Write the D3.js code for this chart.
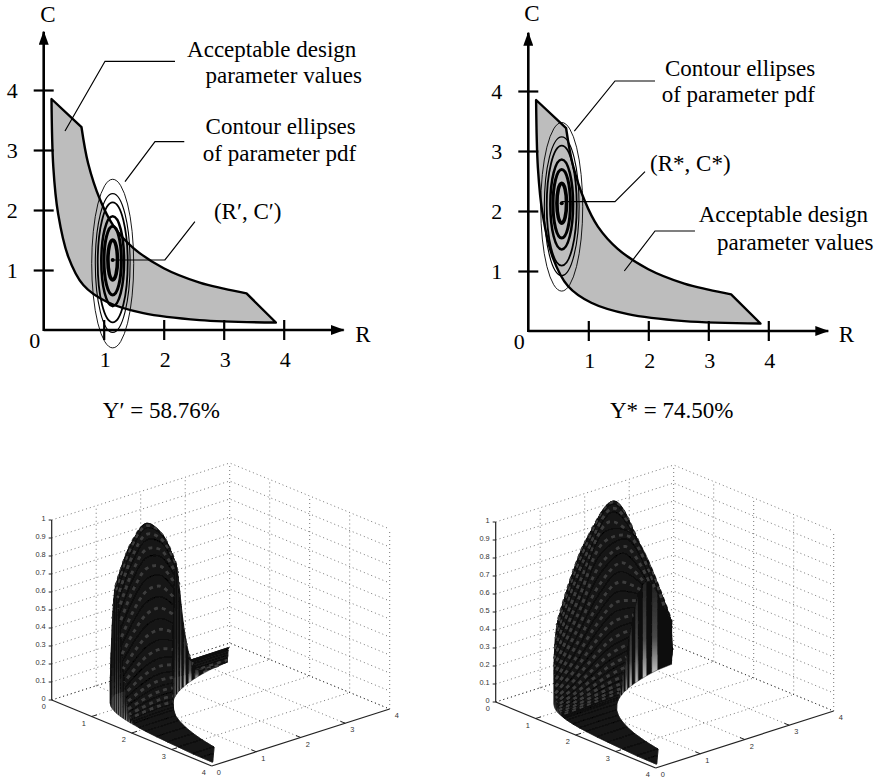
<!DOCTYPE html>
<html>
<head>
<meta charset="utf-8">
<style>
html, body { margin: 0; padding: 0; background: #fff; }
svg { display: block; }
</style>
<script src="https://cdnjs.cloudflare.com/ajax/libs/d3/7.8.5/d3.min.js"></script>
</head>
<body>
<svg id="chart" width="882" height="779"></svg>
<script>
// acceptable region outline, in (R, C) units
var lowerEdgeR = [0.13, 0.16, 0.24, 0.41, 0.66, 1.05, 1.66, 2.6, 3.87];
var lowerEdgeC = [3.85, 2.72, 1.94, 1.22, 0.75, 0.47, 0.28, 0.165, 0.125];
var upperEdgeR = [3.87, 3.38, 3.0, 2.6, 2.0, 1.49, 1.16, 0.94, 0.74, 0.63, 0.13];
var upperEdgeC = [0.125, 0.61, 0.69, 0.79, 1.03, 1.37, 1.74, 2.17, 2.78, 3.38, 3.85];

var planarTicks = [1, 2, 3, 4];

// contour ellipses, outer to inner
var ellipseRadiusR = [0.35, 0.29, 0.25, 0.19, 0.145, 0.08];
var ellipseRadiusC = [1.405, 1.156, 1.0, 0.75, 0.572, 0.333];
var ellipseShiftC = [-0.06, -0.05, -0.04, -0.02, -0.01, 0];
var ellipseWeight = [0.9, 1.1, 1.8, 2.5, 3, 3.6];

var centerLeft = [1.15, 1.167];
var centerRight = [0.557, 2.13];

// leader lines, (R, C) units
var leadersLeft = [
    [[0.355, 3.317], [1.022, 4.478], [2.188, 4.478]],
    [[1.355, 2.472], [1.855, 3.138], [2.343, 3.138]],
    [[1.15, 1.167], [2.02, 1.167], [2.52, 1.805]]
];
var leadersRight = [
    [[0.767, 3.333], [1.445, 4.167], [2.112, 4.167]],
    [[0.557, 2.155], [1.445, 2.155], [1.945, 2.655]],
    [[1.6, 1.0], [2.112, 1.667], [2.778, 1.667]]
];

// text labels, anchored in (R, C) units
var textLeft = [
    ["Acceptable design", 3.8, 4.55],
    ["parameter values", 4.0, 4.12],
    ["Contour ellipses", 3.95, 3.27],
    ["of parameter pdf", 3.93, 2.82],
    ["(R\u2032, C\u2032)", 3.4, 1.85],
    ["C", 0.07, 5.14],
    ["R", 5.32, -0.2],
    ["Y\u2032 = 58.76%", 1.96, -1.47]
];
var textRight = [
    ["Contour ellipses", 3.53, 4.25],
    ["of parameter pdf", 3.5, 3.82],
    ["(R*, C*)", 2.7, 2.67],
    ["Acceptable design", 4.25, 1.81],
    ["parameter values", 4.45, 1.35],
    ["C", 0.06, 5.16],
    ["R", 5.3, -0.18],
    ["Y* = 74.50%", 2.39, -1.45]
];

// surface axes
var axisTicks = [0, 1, 2, 3, 4];
var zTicks = [0, 0.1, 0.2, 0.3, 0.4, 0.5, 0.6, 0.7, 0.8, 0.9, 1];

// left surface: one row per rib of the mesh, heights at five steps across the band
var leftRibR = [0.14, 0.16, 0.2, 0.24, 0.32, 0.41, 0.5, 0.63, 0.7, 0.75, 0.79, 0.83, 0.87, 0.91, 0.95, 0.99, 1.03, 1.07, 1.11, 1.15, 1.19, 1.23, 1.27, 1.31, 1.35, 1.39, 1.43, 1.47, 1.51, 1.55, 1.59, 1.63, 1.67, 1.71, 1.75, 1.9, 2.1, 2.4, 2.7, 3.0, 3.38, 3.6, 3.87];
var leftRibLow = [3.83, 2.72, 2.3, 1.94, 1.55, 1.22, 0.96, 0.76, 0.69, 0.64, 0.61, 0.58, 0.55, 0.53, 0.505, 0.485, 0.466, 0.449, 0.432, 0.417, 0.403, 0.39, 0.378, 0.366, 0.356, 0.345, 0.336, 0.327, 0.318, 0.31, 0.302, 0.294, 0.287, 0.281, 0.274, 0.253, 0.229, 0.2, 0.178, 0.16, 0.135, 0.13, 0.125];
var leftRibHigh = [3.87, 3.83, 3.78, 3.75, 3.67, 3.59, 3.5, 3.38, 2.93, 2.73, 2.59, 2.47, 2.36, 2.25, 2.16, 2.07, 1.99, 1.916, 1.847, 1.783, 1.723, 1.667, 1.614, 1.565, 1.519, 1.475, 1.434, 1.395, 1.358, 1.323, 1.289, 1.258, 1.228, 1.199, 1.171, 1.08, 0.976, 0.854, 0.759, 0.683, 0.61, 0.4, 0.14];
var leftRibZ = [
    [0, 0, 0, 0, 0], [0, 0, 0, 0, 0], [0, 0, 0, 0, 0], [0, 0, 0, 0, 0], [0, 0, 0, 0, 0], [0, 0, 0, 0, 0],
    [0.004, 0.005, 0.002, 0, 0],
    [0.031, 0.031, 0.016, 0.004, 0.001],
    [0.07, 0.079, 0.054, 0.023, 0.006],
    [0.114, 0.135, 0.103, 0.052, 0.017],
    [0.164, 0.198, 0.163, 0.091, 0.035],
    [0.225, 0.277, 0.242, 0.148, 0.064],
    [0.296, 0.372, 0.341, 0.225, 0.109],
    [0.378, 0.48, 0.456, 0.325, 0.174],
    [0.461, 0.592, 0.583, 0.439, 0.253],
    [0.541, 0.699, 0.709, 0.563, 0.348],
    [0.61, 0.794, 0.824, 0.681, 0.45],
    [0.663, 0.867, 0.918, 0.788, 0.549],
    [0.692, 0.907, 0.979, 0.869, 0.634],
    [0.695, 0.913, 1, 0.914, 0.695],
    [0.671, 0.882, 0.979, 0.916, 0.724],
    [0.623, 0.819, 0.919, 0.88, 0.718],
    [0.556, 0.731, 0.828, 0.808, 0.68],
    [0.477, 0.627, 0.716, 0.711, 0.613],
    [0.394, 0.517, 0.595, 0.599, 0.529],
    [0.312, 0.409, 0.474, 0.484, 0.436],
    [0.238, 0.311, 0.362, 0.374, 0.344],
    [0.174, 0.228, 0.266, 0.278, 0.26],
    [0.123, 0.16, 0.188, 0.198, 0.188],
    [0.083, 0.108, 0.127, 0.135, 0.13],
    [0.054, 0.07, 0.083, 0.089, 0.086],
    [0.034, 0.044, 0.052, 0.056, 0.054],
    [0.02, 0.027, 0.032, 0.034, 0.033],
    [0.012, 0.016, 0.019, 0.02, 0.02],
    [0.006, 0.009, 0.01, 0.011, 0.011],
    [0, 0, 0, 0, 0], [0, 0, 0, 0, 0], [0, 0, 0, 0, 0], [0, 0, 0, 0, 0], [0, 0, 0, 0, 0], [0, 0, 0, 0, 0], [0, 0, 0, 0, 0], [0, 0, 0, 0, 0]
];

// right surface, same layout
var rightRibR = [0.14, 0.156, 0.196, 0.236, 0.276, 0.316, 0.356, 0.396, 0.436, 0.476, 0.516, 0.556, 0.596, 0.636, 0.676, 0.716, 0.756, 0.796, 0.836, 0.876, 0.916, 0.956, 0.996, 1.036, 1.076, 1.116, 1.156, 1.196, 1.236, 1.276, 1.316, 1.4, 1.6, 1.8, 2.0, 2.3, 2.6, 3.0, 3.38, 3.6, 3.87];
var rightRibLow = [3.83, 2.72, 2.35, 1.98, 1.74, 1.52, 1.35, 1.21, 1.1, 1.01, 0.93, 0.863, 0.805, 0.755, 0.71, 0.67, 0.635, 0.603, 0.574, 0.548, 0.524, 0.502, 0.482, 0.463, 0.446, 0.43, 0.415, 0.401, 0.388, 0.376, 0.365, 0.343, 0.3, 0.267, 0.24, 0.209, 0.185, 0.16, 0.135, 0.13, 0.125];
var rightRibHigh = [3.87, 3.83, 3.79, 3.75, 3.71, 3.68, 3.64, 3.6, 3.56, 3.52, 3.49, 3.45, 3.41, 3.38, 3.03, 2.86, 2.71, 2.58, 2.45, 2.34, 2.24, 2.14, 2.06, 1.98, 1.905, 1.837, 1.773, 1.714, 1.659, 1.607, 1.558, 1.464, 1.28, 1.139, 1.025, 0.891, 0.788, 0.683, 0.61, 0.4, 0.14];
var rightRibZ = [
    [0, 0, 0, 0, 0],
    [0.097, 0.068, 0.042, 0.023, 0.011],
    [0.188, 0.144, 0.089, 0.044, 0.017],
    [0.275, 0.255, 0.169, 0.08, 0.028],
    [0.346, 0.37, 0.269, 0.129, 0.041],
    [0.395, 0.487, 0.394, 0.194, 0.058],
    [0.428, 0.595, 0.532, 0.273, 0.081],
    [0.444, 0.689, 0.671, 0.364, 0.107],
    [0.449, 0.762, 0.798, 0.455, 0.136],
    [0.442, 0.809, 0.902, 0.543, 0.166],
    [0.419, 0.823, 0.97, 0.608, 0.19],
    [0.387, 0.806, 0.997, 0.659, 0.212],
    [0.349, 0.763, 0.987, 0.681, 0.23],
    [0.31, 0.707, 0.949, 0.685, 0.236],
    [0.269, 0.593, 0.862, 0.803, 0.427],
    [0.229, 0.504, 0.76, 0.785, 0.499],
    [0.192, 0.417, 0.648, 0.721, 0.529],
    [0.156, 0.339, 0.537, 0.631, 0.519],
    [0.126, 0.267, 0.431, 0.529, 0.481],
    [0.099, 0.208, 0.338, 0.429, 0.42],
    [0.076, 0.156, 0.257, 0.336, 0.348],
    [0.057, 0.116, 0.191, 0.255, 0.278],
    [0.042, 0.084, 0.138, 0.188, 0.212],
    [0.03, 0.059, 0.098, 0.135, 0.157],
    [0.022, 0.042, 0.069, 0.097, 0.112],
    [0.014, 0.028, 0.047, 0.066, 0.077],
    [0.009, 0.018, 0.03, 0.043, 0.052],
    [0.005, 0.012, 0.019, 0.028, 0.034],
    [0.003, 0.007, 0.012, 0.017, 0.022],
    [0.002, 0.004, 0.007, 0.01, 0.013],
    [0.001, 0.002, 0.004, 0.006, 0.008],
    [0, 0, 0, 0, 0], [0, 0, 0, 0, 0], [0, 0, 0, 0, 0], [0, 0, 0, 0, 0], [0, 0, 0, 0, 0], [0, 0, 0, 0, 0], [0, 0, 0, 0, 0], [0, 0, 0, 0, 0], [0, 0, 0, 0, 0], [0, 0, 0, 0, 0]
];

var svg = d3.select("#chart");
var defs = svg.append("defs");

function arrowMarker() {
    defs.append("marker")
        .attr("id", "arrow")
        .attr("viewBox", "0 0 14 10")
        .attr("refX", 13)
        .attr("refY", 5)
        .attr("markerUnits", "userSpaceOnUse")
        .attr("markerWidth", 14)
        .attr("markerHeight", 10)
        .attr("orient", "auto")
        .append("path")
        .attr("d", "M0,0L14,5L0,10Z")
        .attr("fill", "#000");
}

function surfaceFills() {
    var wall = defs.append("linearGradient")
        .attr("id", "wallLight")
        .attr("x1", 0).attr("x2", 0).attr("y1", 0).attr("y2", 1);
    wall.append("stop").attr("offset", "0%").attr("stop-color", "#222");
    wall.append("stop").attr("offset", "60%").attr("stop-color", "#484848");
    wall.append("stop").attr("offset", "100%").attr("stop-color", "#c0c0c0");

    defs.append("filter")
        .attr("id", "soft")
        .append("feGaussianBlur")
        .attr("stdDeviation", 0.45);
}

function drawPlanar(originX, originY, center, leaders, labels) {
    var x = d3.scaleLinear().domain([0, 4]).range([0, 240]);
    var y = d3.scaleLinear().domain([0, 4]).range([0, -240]);
    var g = svg.append("g").attr("transform", "translate(" + originX + "," + originY + ")");

    var edge = d3.line()
        .x(function(d) { return x(d[0]); })
        .y(function(d) { return y(d[1]); });
    var smooth = d3.line()
        .x(function(d) { return x(d[0]); })
        .y(function(d) { return y(d[1]); })
        .curve(d3.curveCatmullRom.alpha(0.5));

    g.append("path")
        .attr("d", smooth(d3.zip(lowerEdgeR, lowerEdgeC)) + "L" +
            smooth(d3.zip(upperEdgeR.slice(1, 10), upperEdgeC.slice(1, 10))).slice(1) + "Z")
        .attr("fill", "#bdbdbd")
        .attr("stroke", "#000")
        .attr("stroke-width", 2.4)
        .attr("stroke-linejoin", "round");

    g.selectAll("ellipse")
        .data(ellipseRadiusR)
        .enter()
        .append("ellipse")
        .attr("cx", x(center[0]))
        .attr("cy", function(d, i) { return y(center[1] + ellipseShiftC[i]); })
        .attr("rx", function(d) { return x(d); })
        .attr("ry", function(d, i) { return x(ellipseRadiusC[i]); })
        .attr("fill", "none")
        .attr("stroke", "#000")
        .attr("stroke-width", function(d, i) { return ellipseWeight[i]; });

    g.append("circle")
        .attr("cx", x(center[0]))
        .attr("cy", y(center[1]))
        .attr("r", 2)
        .attr("fill", "#000");

    g.selectAll(".leader")
        .data(leaders)
        .enter()
        .append("path")
        .attr("class", "leader")
        .attr("d", edge)
        .attr("fill", "none")
        .attr("stroke", "#000")
        .attr("stroke-width", 1.2);

    var xAxis = g.append("g").call(d3.axisBottom(x).tickValues(planarTicks).tickFormat(d3.format("d")));
    var yAxis = g.append("g").call(d3.axisLeft(y).tickValues(planarTicks).tickFormat(d3.format("d")));
    xAxis.select(".domain").remove();
    yAxis.select(".domain").remove();
    xAxis.selectAll("line").attr("y1", -10).attr("y2", 10).attr("stroke-width", 2.2);
    yAxis.selectAll("line").attr("x1", -10).attr("x2", 10).attr("stroke-width", 2.2);
    xAxis.selectAll("text").attr("y", 37).attr("dy", 0).attr("dx", 1);
    yAxis.selectAll("text").attr("x", -26).attr("dy", "0.34em");
    g.selectAll(".tick text")
        .attr("font-family", "'Liberation Serif', serif")
        .attr("font-size", 22)
        .attr("fill", "#000");

    g.append("line")
        .attr("x1", 0).attr("y1", 0).attr("x2", x(5.0)).attr("y2", 0)
        .attr("stroke", "#000").attr("stroke-width", 2.6)
        .attr("marker-end", "url(#arrow)");
    g.append("line")
        .attr("x1", 0).attr("y1", 1).attr("x2", 0).attr("y2", y(4.97))
        .attr("stroke", "#000").attr("stroke-width", 2.6)
        .attr("marker-end", "url(#arrow)");

    g.append("text")
        .attr("x", -9).attr("y", 18)
        .attr("text-anchor", "middle")
        .attr("font-family", "'Liberation Serif', serif")
        .attr("font-size", 22)
        .text("0");

    g.selectAll(".note")
        .data(labels)
        .enter()
        .append("text")
        .attr("class", "note")
        .attr("x", function(d) { return x(d[1]); })
        .attr("y", function(d) { return y(d[2]); })
        .attr("text-anchor", "middle")
        .attr("font-family", "'Liberation Serif', serif")
        .attr("font-size", 23)
        .attr("fill", "#000")
        .text(function(d) { return d[0]; });
}

function drawSurface(originX, originY, ribR, ribLow, ribHigh, ribZ) {
    var rX = d3.scaleLinear().domain([0, 4]).range([0, 160]);
    var rY = d3.scaleLinear().domain([0, 4]).range([0, 66]);
    var cX = d3.scaleLinear().domain([0, 4]).range([0, 178]);
    var cY = d3.scaleLinear().domain([0, 4]).range([0, -57]);
    var zY = d3.scaleLinear().domain([0, 1]).range([0, -180]);

    function project(r, c, z) {
        return [rX(r) + cX(c), rY(r) + cY(c) + zY(z)];
    }

    var g = svg.append("g").attr("transform", "translate(" + originX + "," + originY + ")");
    var line = d3.line();
    var curve = d3.line().curve(d3.curveCatmullRom.alpha(0.5));

    // dotted box
    var grid = [];
    zTicks.forEach(function(z) {
        grid.push([project(0, 0, z), project(0, 4, z), project(4, 4, z)]);
    });
    axisTicks.slice(1).forEach(function(t) {
        grid.push([project(0, t, 0), project(0, t, 1)]);
        grid.push([project(t, 4, 0), project(t, 4, 1)]);
    });
    axisTicks.slice(1, 4).forEach(function(t) {
        grid.push([project(t, 0, 0), project(t, 4, 0)]);
        grid.push([project(0, t, 0), project(4, t, 0)]);
    });

    g.selectAll(".grid")
        .data(grid)
        .enter()
        .append("path")
        .attr("class", "grid")
        .attr("d", line)
        .attr("fill", "none")
        .attr("stroke", "#777")
        .attr("stroke-width", 1)
        .attr("stroke-dasharray", "1 3");

    // floor edges at the back are a darker dotted line
    g.selectAll(".floor")
        .data([[project(0, 0, 0), project(0, 4, 0), project(4, 4, 0)]])
        .enter()
        .append("path")
        .attr("class", "floor")
        .attr("d", line)
        .attr("fill", "none")
        .attr("stroke", "#333")
        .attr("stroke-width", 1)
        .attr("stroke-dasharray", "1 3");

    // solid axes and their ticks
    var axes = [
        [project(0, 0, 0), project(0, 0, 1)],
        [project(0, 0, 0), project(4, 0, 0)],
        [project(4, 0, 0), project(4, 4, 0)]
    ];
    g.selectAll(".axis3")
        .data(axes)
        .enter()
        .append("path")
        .attr("class", "axis3")
        .attr("d", line)
        .attr("fill", "none")
        .attr("stroke", "#222")
        .attr("stroke-width", 1.2);

    var stubs = [];
    zTicks.forEach(function(z) {
        stubs.push([project(0, 0, z), [project(0, 0, z)[0] - 3, project(0, 0, z)[1]]]);
    });
    axisTicks.slice(1, 4).forEach(function(t) {
        stubs.push([project(t, 0, 0), project(t, 0.12, 0)]);
        stubs.push([project(4, t, 0), project(3.88, t, 0)]);
    });
    g.selectAll(".stub")
        .data(stubs)
        .enter()
        .append("path")
        .attr("class", "stub")
        .attr("d", line)
        .attr("fill", "none")
        .attr("stroke", "#222")
        .attr("stroke-width", 1);

    var small = g.append("g")
        .attr("font-family", "'Liberation Sans', sans-serif")
        .attr("font-size", 7.4)
        .attr("fill", "#333");
    small.selectAll(".zlabel")
        .data(zTicks)
        .enter()
        .append("text")
        .attr("class", "zlabel")
        .attr("x", -6)
        .attr("y", function(d) { return project(0, 0, d)[1] + 1; })
        .attr("text-anchor", "end")
        .text(function(d) { return d; });
    small.selectAll(".rlabel")
        .data(axisTicks)
        .enter()
        .append("text")
        .attr("class", "rlabel")
        .attr("x", function(d) { return project(d, 0, 0)[0] - 8; })
        .attr("y", function(d) { return project(d, 0, 0)[1] + 9; })
        .attr("text-anchor", "middle")
        .text(function(d) { return d; });
    small.selectAll(".clabel")
        .data(axisTicks)
        .enter()
        .append("text")
        .attr("class", "clabel")
        .attr("x", function(d) { return project(4, d, 0)[0] + 7; })
        .attr("y", function(d) { return project(4, d, 0)[1] + 9; })
        .attr("text-anchor", "middle")
        .text(function(d) { return d; });

    // mesh, back ribs first
    var across = [0, 0.25, 0.5, 0.75, 1];
    var ribs = ribR.map(function(r, i) {
        return across.map(function(t, k) {
            return project(r, ribLow[i] + (ribHigh[i] - ribLow[i]) * t, ribZ[i][k]);
        });
    });
    var bases = ribR.map(function(r, i) {
        return [project(r, ribLow[i], 0), project(r, ribHigh[i], 0)];
    });

    var mesh = g.append("g").attr("filter", "url(#soft)");
    for (var i = 1; i < ribs.length; i++) {
        var a = ribs[i - 1], b = ribs[i];
        var peak = d3.max(ribZ[i]);
        var wallFill = i % 2 ? "url(#wallLight)" : "#0c0c0c";

        mesh.append("path")
            .attr("d", line([a[0], b[0], bases[i][0], bases[i - 1][0]]) + "Z")
            .attr("fill", wallFill)
            .attr("stroke", "#0c0c0c")
            .attr("stroke-width", 0.4);
        mesh.append("path")
            .attr("d", line([a[4], b[4], bases[i][1], bases[i - 1][1]]) + "Z")
            .attr("fill", wallFill)
            .attr("stroke", "#0c0c0c")
            .attr("stroke-width", 0.4);
        mesh.append("path")
            .attr("d", curve(a) + "L" + curve(b.slice().reverse()).slice(1) + "Z")
            .attr("fill", "#121212")
            .attr("stroke", "#121212")
            .attr("stroke-width", 0.5);

        // gray streaks strung along the strip between two ribs, shifted rib by rib
        if (peak > 0.02) {
            var middle = a.map(function(p, k) {
                return [(p[0] + b[k][0]) / 2, (p[1] + b[k][1]) / 2];
            });
            mesh.append("path")
                .attr("d", curve(middle))
                .attr("fill", "none")
                .attr("stroke", "#3c3c3c")
                .attr("stroke-width", 3)
                .attr("stroke-dasharray", "4 4")
                .attr("stroke-dashoffset", i * 1.6);
        }
        mesh.append("path")
            .attr("d", curve(b))
            .attr("fill", "none")
            .attr("stroke", "#000")
            .attr("stroke-width", 1.2);
    }
}

arrowMarker();
surfaceFills();
drawPlanar(43.7, 330, centerLeft, leadersLeft, textLeft);
drawPlanar(528.3, 331, centerRight, leadersRight, textRight);
drawSurface(51.7, 700, leftRibR, leftRibLow, leftRibHigh, leftRibZ);
drawSurface(495.7, 702, rightRibR, rightRibLow, rightRibHigh, rightRibZ);
</script>
</body>
</html>
